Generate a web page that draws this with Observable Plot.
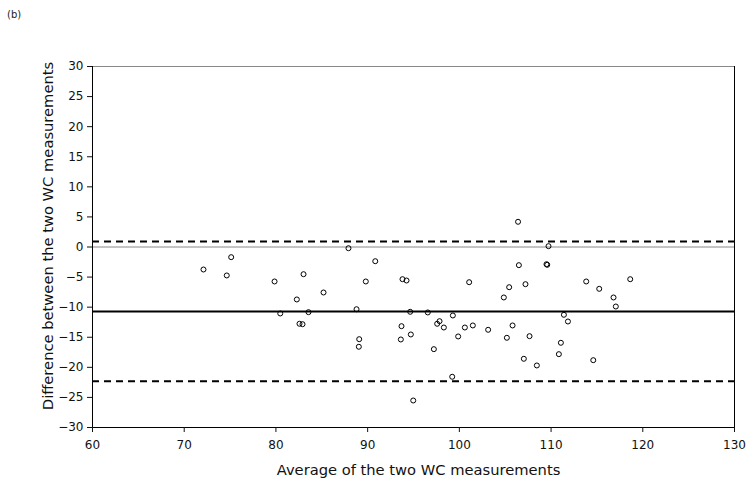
<!DOCTYPE html>
<html><head><meta charset="utf-8">
<script src="https://cdn.jsdelivr.net/npm/d3@7"></script>
<script src="https://cdn.jsdelivr.net/npm/@observablehq/plot@0.6"></script>
<style>
body{margin:0;background:#fff;font-family:"DejaVu Sans",Verdana,sans-serif;}
#wrap{position:relative;width:755px;height:489px;overflow:hidden;}
#tag{position:absolute;left:7px;top:9px;font-size:10px;color:#222;}
</style></head><body>
<div id="wrap"><div id="tag">(b)</div><div id="chart"></div></div>
<script>
const avgWC = [72.10,75.12,74.64,79.85,83.01,82.28,85.19,80.47,83.55,82.57,82.90,87.91,90.83,89.80,88.79,89.08,89.04,
  93.80,94.24,101.07,109.72,109.50,109.58,106.49,107.21,105.43,104.85,94.64,96.56,99.29,93.69,94.71,93.62,97.58,97.84,
  98.31,100.60,101.47,99.87,97.22,103.14,105.80,105.18,107.65,107.03,108.45,99.22,94.97,111.40,111.84,111.07,110.85,106.40,
  113.83,115.25,118.63,116.81,117.06,114.60];
const diffWC = [-3.74,-1.69,-4.73,-5.73,-4.52,-8.72,-7.56,-11.05,-10.83,-12.76,-12.83,-0.20,-2.36,-5.73,-10.34,-15.32,-16.58,
  -5.35,-5.57,-5.85,0.14,-2.86,-2.96,-3.02,-6.18,-6.68,-8.39,-10.77,-10.88,-11.38,-13.16,-14.54,-15.37,-12.76,-12.33,
  -13.38,-13.38,-13.04,-14.87,-16.98,-13.76,-13.04,-15.09,-14.82,-18.58,-19.69,-21.57,-25.51,-11.27,-12.38,-15.92,-17.81,4.19,
  -5.73,-6.95,-5.35,-8.39,-9.89,-18.81];
const meanDiff = -10.7;
const upperLoA = 0.9;
const lowerLoA = -22.3;
const xTicks = [60,70,80,90,100,110,120,130];
const yTicks = [-30,-25,-20,-15,-10,-5,0,5,10,15,20,25,30];
const xLabel = "Average of the two WC measurements";
const yLabel = "Difference between the two WC measurements";

const points = avgWC.map((a,i)=>({avg:a, diff:diffWC[i]}));

const chart = Plot.plot({
  width:755, height:489,
  marginLeft:92, marginRight:21, marginTop:66, marginBottom:62,
  style:{fontFamily:"'DejaVu Sans', Verdana, sans-serif", fontSize:"12px", color:"#111", background:"white"},
  x:{domain:[60,130]},
  y:{domain:[-30,30]},
  marks:[
    Plot.ruleY([0],{stroke:"#888",strokeWidth:1}),
    Plot.ruleY([30],{stroke:"#888",strokeWidth:1}),
    Plot.ruleX([130],{stroke:"#000",strokeWidth:1}),
    Plot.ruleX([60],{stroke:"#000",strokeWidth:1}),
    Plot.ruleY([-30],{stroke:"#000",strokeWidth:1}),
    Plot.ruleY([upperLoA],{stroke:"#000",strokeWidth:2,strokeDasharray:"7,5"}),
    Plot.ruleY([lowerLoA],{stroke:"#000",strokeWidth:2,strokeDasharray:"7,5"}),
    Plot.ruleY([meanDiff],{stroke:"#000",strokeWidth:2}),
    Plot.dot(points,{x:"avg",y:"diff",r:2.5,stroke:"#000",strokeWidth:1,fill:"none"}),
    Plot.axisX({ticks:xTicks, tickSize:5, tickPadding:8, label:null}),
    Plot.axisY({ticks:yTicks, tickSize:5, tickPadding:4, label:null}),
    Plot.text([xLabel],{text:d=>d, frameAnchor:"bottom", textAnchor:"middle", lineAnchor:"middle", dx:5, dy:43, fontSize:14.7, fill:"#111"}),
    Plot.text([yLabel],{text:d=>d, frameAnchor:"left", textAnchor:"middle", lineAnchor:"middle", rotate:-90, dx:-44, dy:-11, fontSize:14.7, fill:"#111"})
  ]
});
document.getElementById("chart").appendChild(chart);
</script>
</body></html>
